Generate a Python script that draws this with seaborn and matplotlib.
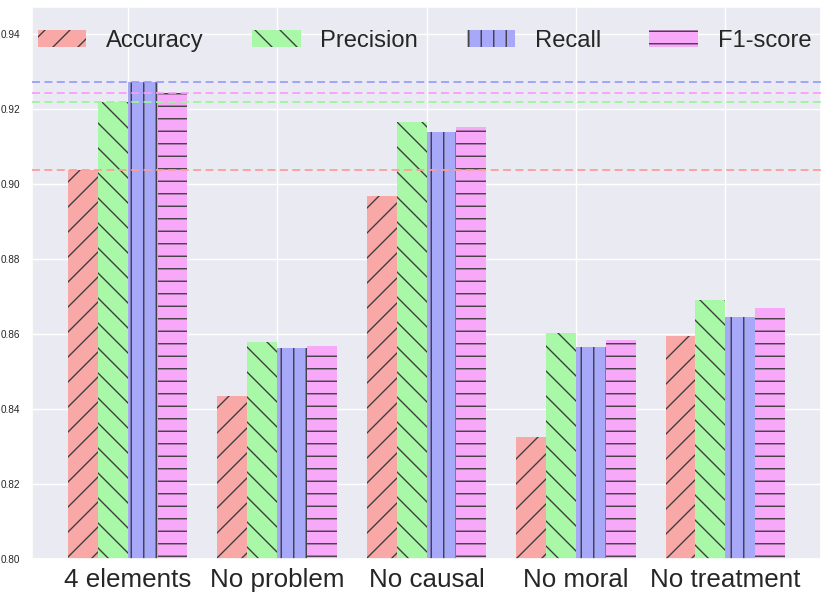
import matplotlib
matplotlib.use('Agg')
import matplotlib.pyplot as plt
import seaborn as sns
import pandas as pd

settings = ['4 elements', 'No problem', 'No causal', 'No moral', 'No treatment']
metrics = ['Accuracy', 'Precision', 'Recall', 'F1-score']
accuracy = [0.9038, 0.8435, 0.8967, 0.8326, 0.8595]
precision = [0.9218, 0.8580, 0.9164, 0.8603, 0.8691]
recall = [0.9270, 0.8562, 0.9138, 0.8565, 0.8645]
f1_score = [0.9243, 0.8569, 0.9151, 0.8583, 0.8669]

bar_colors = ['#f9a8a8', '#a8f8a8', '#a8a8f8', '#f8a8f8']
line_colors = ['#ff9c9c', '#9cf59c', '#9c9cff', '#fc9cfc']
hatches = ['//', '\\\\', '||', '--']

sns.set_style('darkgrid')
plt.rcParams['font.family'] = ['Liberation Sans', 'DejaVu Sans']
plt.rcParams['hatch.linewidth'] = 0.65
plt.rcParams['hatch.color'] = '#3c3c3c'

rows = []
for name, vals in zip(metrics, [accuracy, precision, recall, f1_score]):
    for s, v in zip(settings, vals):
        rows.append({'setting': s, 'metric': name, 'score': v})
df = pd.DataFrame(rows)

fig = plt.figure(figsize=(831 / 150, 595 / 150), dpi=150)
ax = fig.add_axes([0.0385, 0.0597, 0.9495, 0.928])

sns.barplot(data=df, x='setting', y='score', hue='metric', palette=bar_colors,
            saturation=1, errorbar=None, width=0.8, ax=ax, legend=False)

handles = []
for cont, h in zip(ax.containers, hatches):
    for bar in cont:
        bar.set_hatch(h)
        bar.set_edgecolor('#3c3c3c')
        bar.set_linewidth(0)
    handles.append(cont.patches[0])

# baseline (4 elements) reference lines
for vals, c in zip([accuracy, precision, recall, f1_score], line_colors):
    ax.axhline(vals[0], color=c, ls=(0, (4.5, 2.5)), lw=0.85, zorder=3)

ax.set_xlim(-0.64, 4.64)
ax.set_ylim(0.80, 0.947)
ax.set_xlabel('')
ax.set_ylabel('')
ax.grid(True, color='white', lw=0.7)
ax.tick_params(axis='x', labelsize=12.5, pad=0.8)
ax.tick_params(axis='y', labelsize=4.8, pad=2.2)

ax.legend(handles=handles, labels=metrics, ncol=4, loc='center left',
          bbox_to_anchor=(0.0076, 0.939), frameon=False, fontsize=11.4,
          borderpad=0, borderaxespad=0, handlelength=2.04, handleheight=0.7,
          handletextpad=0.83, columnspacing=2.04)

fig.savefig('out.png', dpi=150)
